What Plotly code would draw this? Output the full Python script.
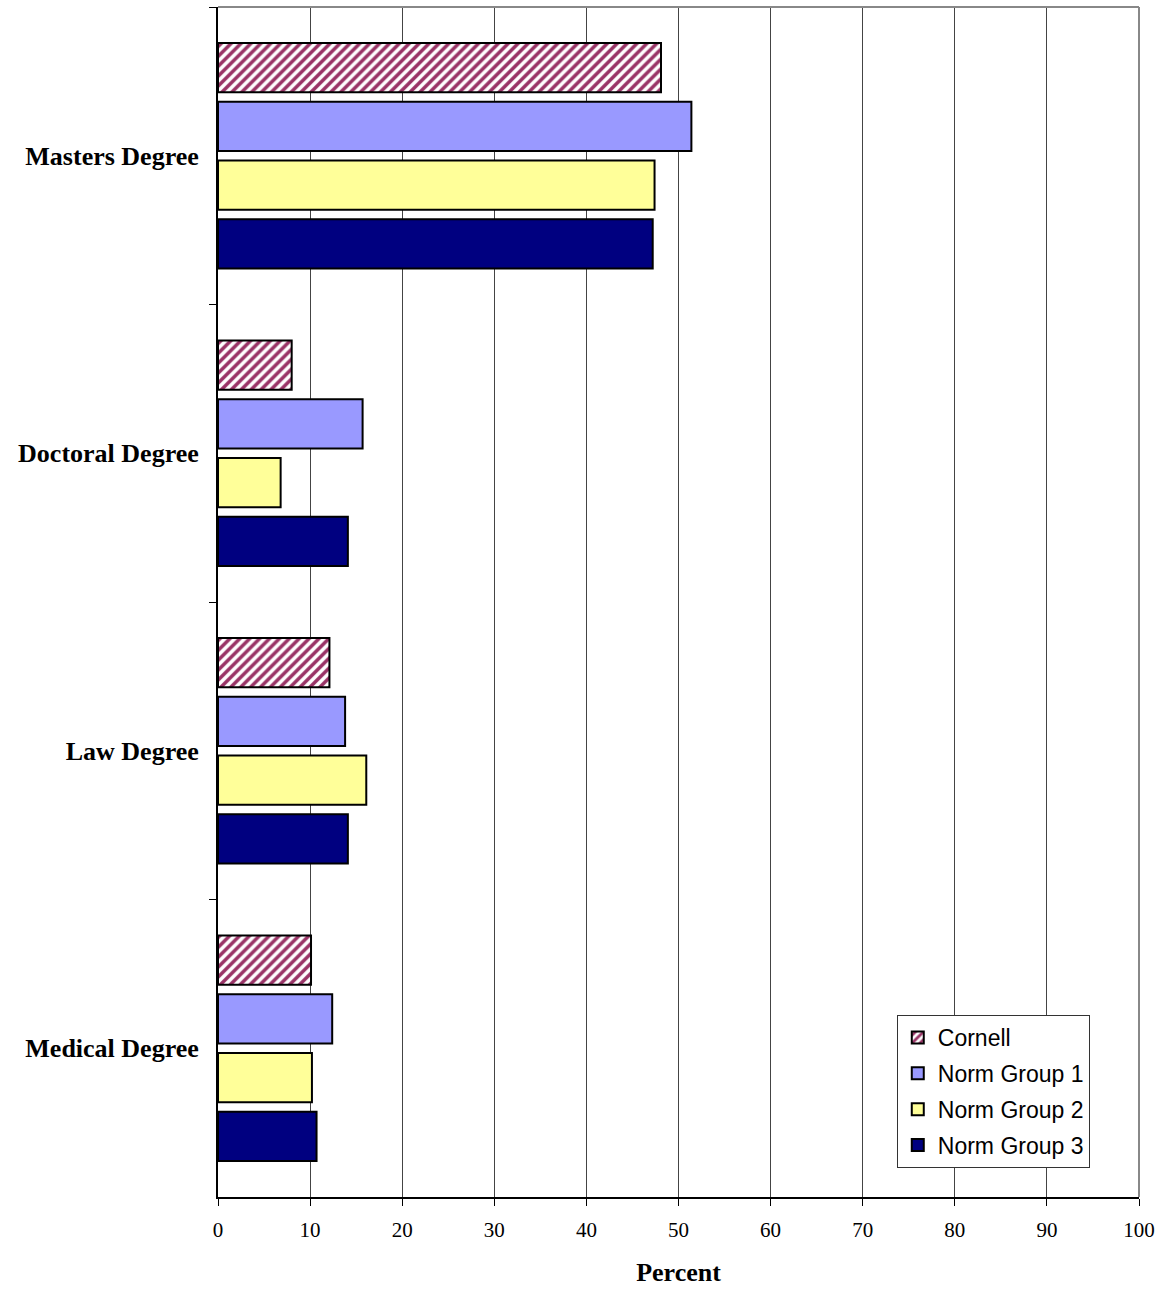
import plotly.graph_objects as go

categories = ["Masters Degree", "Doctoral Degree", "Law Degree", "Medical Degree"]
series_names = ["Cornell", "Norm Group 1", "Norm Group 2", "Norm Group 3"]
cornell = [48.1, 8.0, 12.1, 10.1]
norm1 = [51.4, 15.7, 13.8, 12.4]
norm2 = [47.4, 6.8, 16.1, 10.2]
norm3 = [47.2, 14.1, 14.1, 10.7]
x_ticks = [0, 10, 20, 30, 40, 50, 60, 70, 80, 90, 100]

values = [cornell, norm1, norm2, norm3]
colors = ["#FFFFFF", "#9999FF", "#FFFF99", "#000080"]

fig = go.Figure()
for i, (name, vals) in enumerate(zip(series_names, values)):
    marker = dict(color=colors[i], line=dict(color="black", width=2))
    if i == 0:
        marker["pattern"] = dict(shape="/", fgcolor="#993366", bgcolor="#FFFFFF",
                                 fgopacity=1, size=7, solidity=0.5, fillmode="overlay")
    fig.add_trace(go.Bar(name=name, y=categories, x=vals, orientation="h",
                         marker=marker, legendgroup=name))

fig.update_layout(
    width=1160, height=1289,
    margin=dict(l=218, r=21, t=7, b=92, autoexpand=False),
    paper_bgcolor="white", plot_bgcolor="white",
    barmode="group", bargap=0.21, bargroupgap=0.16,
    legend=dict(x=0.737, y=0.153, xanchor="left", yanchor="top",
                bgcolor="white", bordercolor="#333333", borderwidth=1,
                font=dict(family="Liberation Sans, Arial", size=23, color="black"),
                traceorder="grouped", itemsizing="constant", itemwidth=30,
                tracegroupgap=3),
    showlegend=True,
)
fig.update_xaxes(
    range=[0, 100], tickvals=x_ticks, ticktext=[str(t) for t in x_ticks],
    showgrid=True, gridcolor="#444444", gridwidth=1,
    showline=True, linecolor="black", linewidth=2,
    ticks="outside", ticklen=7, tickcolor="black",
    ticklabelstandoff=6,
    tickfont=dict(family="Liberation Serif, Times New Roman", size=21, color="black"),
    title=dict(text="Percent", standoff=22,
               font=dict(family="Liberation Serif, Times New Roman", size=26, color="black", weight="bold")),
    zeroline=False, automargin=False,
)
fig.update_yaxes(
    autorange="reversed", categoryorder="array", categoryarray=categories,
    showline=True, linecolor="black", linewidth=2,
    ticks="outside", ticklen=7, tickcolor="black", tickson="boundaries",
    showgrid=False, automargin=False,
    ticklabelstandoff=12,
    tickfont=dict(family="Liberation Serif, Times New Roman", size=26, color="black", weight="bold"),
)
# gray top and right frame
fig.add_shape(type="line", xref="paper", yref="paper", x0=0, x1=1, y0=1, y1=1,
              line=dict(color="#888888", width=2))
fig.add_shape(type="line", xref="paper", yref="paper", x0=1, x1=1, y0=0, y1=1,
              line=dict(color="#888888", width=2))

fig.write_html("out.html", config={"displayModeBar": False},
               post_script="document.body.style.margin='0';")
